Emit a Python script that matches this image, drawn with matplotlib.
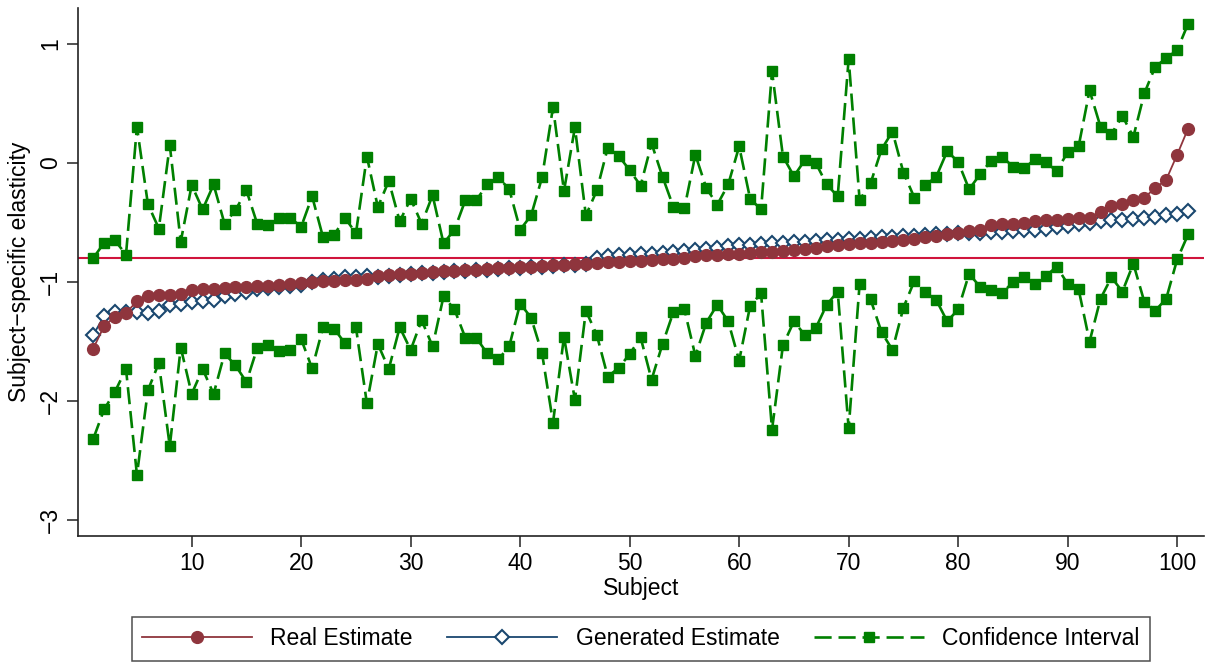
import matplotlib
matplotlib.use("Agg")
import matplotlib.pyplot as plt
from matplotlib.lines import Line2D

plt.rcParams['font.family'] = ['Liberation Sans', 'DejaVu Sans']

subjects = list(range(1, 102))

real_est = [
    -1.56, -1.37, -1.29, -1.26, -1.16, -1.12, -1.11, -1.11, -1.10, -1.07,
    -1.06, -1.06, -1.05, -1.045, -1.04, -1.035, -1.03, -1.025, -1.02, -1.01,
    -1.00, -0.995, -0.99, -0.985, -0.98, -0.975, -0.95, -0.94, -0.935, -0.93,
    -0.92, -0.915, -0.91, -0.905, -0.90, -0.895, -0.89, -0.885, -0.88, -0.875,
    -0.87, -0.865, -0.86, -0.855, -0.85, -0.845, -0.84, -0.835, -0.83, -0.825,
    -0.82, -0.815, -0.81, -0.805, -0.80, -0.78, -0.775, -0.77, -0.765, -0.76,
    -0.755, -0.75, -0.745, -0.735, -0.73, -0.72, -0.71, -0.70, -0.69, -0.68,
    -0.675, -0.67, -0.665, -0.655, -0.645, -0.635, -0.625, -0.615, -0.60, -0.585,
    -0.57, -0.56, -0.52, -0.515, -0.51, -0.50, -0.49, -0.48, -0.475, -0.47,
    -0.465, -0.46, -0.415, -0.36, -0.34, -0.31, -0.29, -0.21, -0.14, 0.07,
    0.29,
]

gen_est = [
    -1.445, -1.285, -1.25, -1.25, -1.25, -1.26, -1.24, -1.19, -1.18, -1.165,
    -1.16, -1.15, -1.12, -1.10, -1.08, -1.06, -1.05, -1.04, -1.03, -1.025,
    -1.00, -0.985, -0.97, -0.96, -0.955, -0.95, -0.955, -0.945, -0.94, -0.935,
    -0.925, -0.92, -0.915, -0.91, -0.905, -0.90, -0.895, -0.89, -0.885, -0.88,
    -0.875, -0.87, -0.865, -0.86, -0.855, -0.85, -0.80, -0.78, -0.775, -0.77,
    -0.765, -0.76, -0.755, -0.745, -0.74, -0.73, -0.72, -0.71, -0.70, -0.69,
    -0.685, -0.68, -0.675, -0.67, -0.665, -0.66, -0.655, -0.65, -0.645, -0.64,
    -0.635, -0.63, -0.625, -0.62, -0.615, -0.61, -0.605, -0.60, -0.595, -0.59,
    -0.59, -0.585, -0.58, -0.575, -0.57, -0.565, -0.56, -0.55, -0.54, -0.53,
    -0.515, -0.50, -0.49, -0.48, -0.475, -0.47, -0.46, -0.45, -0.44, -0.425,
    -0.40,
]

ci_upper = [
    -0.80, -0.67, -0.65, -0.77, 0.305, -0.345, -0.55, 0.15, -0.66, -0.185,
    -0.39, -0.18, -0.51, -0.395, -0.23, -0.515, -0.52, -0.465, -0.46, -0.535,
    -0.28, -0.625, -0.605, -0.46, -0.59, 0.055, -0.37, -0.15, -0.49, -0.30,
    -0.51, -0.27, -0.675, -0.56, -0.31, -0.31, -0.18, -0.12, -0.22, -0.56,
    -0.44, -0.12, 0.47, -0.235, 0.30, -0.44, -0.23, 0.13, 0.06, -0.06,
    -0.19, 0.165, -0.115, -0.37, -0.38, 0.07, -0.21, -0.35, -0.18, 0.14,
    -0.30, -0.39, 0.77, 0.055, -0.11, 0.025, 0.00, -0.18, -0.28, 0.875,
    -0.31, -0.17, 0.115, 0.265, -0.08, -0.29, -0.185, -0.115, 0.10, 0.01,
    -0.22, -0.095, 0.02, 0.055, -0.03, -0.045, 0.03, 0.005, -0.065, 0.09,
    0.14, 0.61, 0.305, 0.245, 0.395, 0.22, 0.585, 0.81, 0.88, 0.95,
    1.17,
]

ci_lower = [
    -2.32, -2.07, -1.92, -1.73, -2.62, -1.91, -1.68, -2.38, -1.55, -1.94,
    -1.73, -1.94, -1.60, -1.70, -1.84, -1.55, -1.53, -1.58, -1.57, -1.48,
    -1.725, -1.38, -1.39, -1.515, -1.38, -2.02, -1.52, -1.73, -1.38, -1.57,
    -1.32, -1.54, -1.12, -1.23, -1.47, -1.47, -1.60, -1.65, -1.54, -1.18,
    -1.30, -1.60, -2.18, -1.46, -1.99, -1.24, -1.445, -1.795, -1.72, -1.605,
    -1.465, -1.82, -1.52, -1.25, -1.23, -1.62, -1.34, -1.19, -1.33, -1.66,
    -1.20, -1.095, -2.24, -1.53, -1.33, -1.445, -1.385, -1.19, -1.08, -2.23,
    -1.015, -1.145, -1.42, -1.57, -1.215, -0.99, -1.085, -1.15, -1.33, -1.23,
    -0.93, -1.04, -1.07, -1.095, -1.00, -0.955, -1.02, -0.95, -0.87, -1.015,
    -1.06, -1.50, -1.14, -0.96, -1.08, -0.845, -1.165, -1.24, -1.14, -0.81,
    -0.60,
]

ref_line = -0.80

red = "#8f353d"
navy = "#1a476f"
green = "#008000"
crimson = "#d0143c"
dash = (6.5, 2.6)

fig = plt.figure(figsize=(12.17, 6.67), dpi=100)
ax = fig.add_axes([0.0643, 0.197, 0.925, 0.7905])

ax.axhline(ref_line, color=crimson, linewidth=1.5, zorder=1)

ci_style = dict(color=green, linewidth=1.9, dashes=dash, marker="s",
                markersize=7, markerfacecolor=green, markeredgecolor=green,
                zorder=2)
ax.plot(subjects, ci_upper, **ci_style)
ax.plot(subjects, ci_lower, **ci_style)

ax.plot(subjects, gen_est, color=navy, linewidth=1.3, marker="D",
        markersize=7.5, markerfacecolor="white", markeredgecolor=navy,
        markeredgewidth=1.5, zorder=3)
ax.plot(subjects, real_est, color=red, linewidth=1.3, marker="o",
        markersize=8.5, markerfacecolor=red, markeredgecolor=red, zorder=4)

ax.set_xlim(-0.36, 102.45)
ax.set_ylim(-3.13, 1.3)
ax.set_xticks([10, 20, 30, 40, 50, 60, 70, 80, 90, 100])
ax.set_yticks([-3, -2, -1, 0, 1])
ax.set_yticklabels(["\u22123", "\u22122", "\u22121", "0", "1"], rotation=90,
                   va="center")
ax.tick_params(labelsize=16.5, length=8, width=1.1, color="#222222")
ax.spines["top"].set_visible(False)
ax.spines["right"].set_visible(False)
for s in ("left", "bottom"):
    ax.spines[s].set_linewidth(1.2)
    ax.spines[s].set_color("#222222")

ax.set_xlabel("Subject", fontsize=16.5, labelpad=2)
ax.set_ylabel("Subject\u2212specific elasticity", fontsize=16.5, labelpad=6)

handles = [
    Line2D([], [], color=red, linewidth=1.3, marker="o", markersize=8.5,
           markerfacecolor=red, markeredgecolor=red),
    Line2D([], [], color=navy, linewidth=1.3, marker="D", markersize=7.5,
           markerfacecolor="white", markeredgecolor=navy, markeredgewidth=1.5),
    Line2D([], [], color=green, linewidth=1.9, dashes=dash, marker="s",
           markersize=7, markerfacecolor=green, markeredgecolor=green),
]
labels = ["Real Estimate", "Generated Estimate", "Confidence Interval"]
leg = fig.legend(handles, labels, loc="center", bbox_to_anchor=(0.5265, 0.042),
                 ncol=3, fontsize=16.5, frameon=True, fancybox=False,
                 handlelength=4.8, handletextpad=0.8, columnspacing=1.5,
                 numpoints=1, borderpad=0.45)
leg.get_frame().set_edgecolor("#222222")
leg.get_frame().set_linewidth(1.1)

fig.savefig("out.png", dpi=100)
